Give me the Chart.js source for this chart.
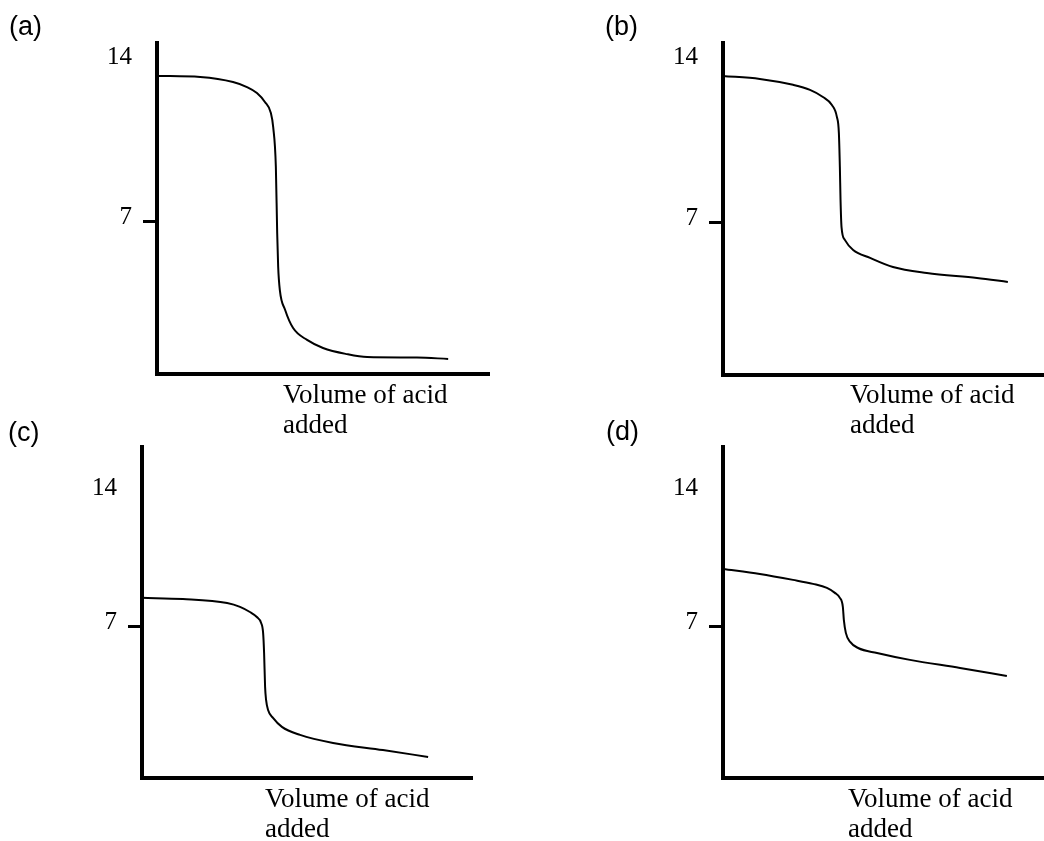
<!DOCTYPE html>
<html>
<head>
<meta charset="utf-8">
<script src="https://cdn.jsdelivr.net/npm/chart.js@4.4.1/dist/chart.umd.min.js"></script>
<style>
  html, body { margin: 0; padding: 0; background: #fff; overflow: hidden; }
  body { width: 1044px; height: 841px; position: relative; }
  .box { position: absolute; }
  .panel { position: absolute; font-family: "Liberation Sans", Arial, sans-serif; font-size: 27px; line-height: 27px; color: #000; }
  .xtitle { position: absolute; font-family: "Liberation Serif", "Times New Roman", serif; font-size: 27px; line-height: 30px; color: #000; white-space: pre; }
</style>
</head>
<body>

<div class="box" style="left:0px;top:0px;"><canvas id="chartA" width="520" height="410"></canvas></div>
<div class="box" style="left:560px;top:0px;"><canvas id="chartB" width="520" height="410"></canvas></div>
<div class="box" style="left:0px;top:420px;"><canvas id="chartC" width="520" height="410"></canvas></div>
<div class="box" style="left:560px;top:420px;"><canvas id="chartD" width="520" height="410"></canvas></div>

<div class="panel" style="left:9px;top:13px;">(a)</div>
<div class="panel" style="left:605px;top:13px;">(b)</div>
<div class="panel" style="left:8px;top:419px;">(c)</div>
<div class="panel" style="left:606px;top:418px;">(d)</div>

<div class="xtitle" style="left:283px;top:379px;">Volume of acid
added</div>
<div class="xtitle" style="left:850px;top:379px;">Volume of acid
added</div>
<div class="xtitle" style="left:265px;top:783px;">Volume of acid
added</div>
<div class="xtitle" style="left:848px;top:783px;">Volume of acid
added</div>

<script>
// tick labels shown on the pH axis
const yTicks = [7, 14];

// (a)
const volA = [0, 13.0, 22.9, 27.1, 30.1, 32.5, 34.3, 35.0, 35.8, 36.2, 36.5, 37.0, 38.6, 41.0, 45.2, 50.0, 57.2, 63.3, 78.3, 87.7];
const phA  = [13.39, 13.34, 13.12, 12.90, 12.64, 12.25, 11.77, 11.15, 9.41, 6.52, 5.03, 4.02, 3.15, 2.36, 1.84, 1.49, 1.22, 1.09, 1.07, 1.01];

// (b)
const volB = [0, 11.1, 21.1, 26.2, 30.1, 32.8, 34.3, 34.9, 35.2, 35.4, 35.7, 36.7, 39.2, 44.3, 51.2, 61.4, 76.5, 85.8];
const phB  = [13.43, 13.30, 13.04, 12.82, 12.51, 12.16, 11.64, 10.94, 9.45, 8.01, 6.82, 6.26, 5.82, 5.47, 5.07, 4.81, 4.59, 4.42];

// (c)
const volC = [0, 12.4, 25.8, 29.7, 32.7, 34.8, 36.1, 36.7, 37.0, 37.3, 37.6, 38.2, 39.7, 42.4, 47.9, 57.9, 73.0, 86.7];
const phC  = [8.52, 8.46, 8.25, 8.05, 7.78, 7.52, 7.21, 6.69, 5.64, 3.87, 3.19, 2.66, 2.25, 1.78, 1.36, 0.94, 0.57, 0.21];

// (d)
const volD = [0, 11.1, 21.1, 27.1, 31.3, 33.7, 35.2, 36.1, 36.4, 37.0, 38.3, 40.7, 46.4, 56.3, 71.4, 85.5];
const phD  = [10.03, 9.77, 9.46, 9.25, 9.04, 8.78, 8.52, 8.05, 7.37, 6.69, 6.22, 5.90, 5.64, 5.28, 4.86, 4.44];

const serif = '"Liberation Serif", "Times New Roman", serif';

function makeChart(id, vol, ph, cfg) {
    const ctx = document.getElementById(id).getContext('2d');
    return new Chart(ctx, {
        type: 'line',
        data: {
            datasets: [{
                data: vol.map((v, i) => ({ x: v, y: ph[i] })),
                borderColor: '#000',
                borderWidth: 2,
                pointRadius: 0,
                fill: false,
                cubicInterpolationMode: 'monotone'
            }]
        },
        options: {
            responsive: false,
            animation: false,
            events: [],
            layout: {
                padding: { top: cfg.top, right: cfg.right, left: 0, bottom: 0 }
            },
            plugins: {
                legend: { display: false },
                tooltip: { enabled: false }
            },
            scales: {
                x: {
                    type: 'linear',
                    min: 0,
                    max: 100,
                    ticks: { display: false },
                    grid: { display: false },
                    border: { display: true, color: '#000', width: 4 },
                    afterFit: (scale) => { scale.height = cfg.xh; }
                },
                y: {
                    type: 'linear',
                    min: cfg.ymin,
                    max: cfg.ymax,
                    afterBuildTicks: (scale) => { scale.ticks = yTicks.map(v => ({ value: v })); },
                    afterFit: (scale) => { scale.width = cfg.yw; },
                    ticks: {
                        color: '#000',
                        padding: 11,
                        labelOffset: -5,
                        font: { family: serif, size: 25 }
                    },
                    grid: {
                        display: true,
                        drawOnChartArea: false,
                        drawTicks: true,
                        tickLength: 14,
                        lineWidth: 3,
                        tickColor: (c) => (c.tick && c.tick.value === 7) ? '#000' : 'rgba(0,0,0,0)'
                    },
                    border: { display: true, color: '#000', width: 4 }
                }
            }
        }
    });
}

makeChart('chartA', volA, phA, { top: 43, right: 31, xh: 36, yw: 157, ymin: 0.35, ymax: 14.83 });
makeChart('chartB', volB, phB, { top: 43, right: 25, xh: 35, yw: 163, ymin: 0.35, ymax: 14.87 });
makeChart('chartC', volC, phC, { top: 27, right: 48, xh: 52, yw: 142, ymin: -0.89, ymax: 16.4 });
makeChart('chartD', volD, phD, { top: 27, right: 25, xh: 52, yw: 163, ymin: -0.89, ymax: 16.4 });
</script>
</body>
</html>
